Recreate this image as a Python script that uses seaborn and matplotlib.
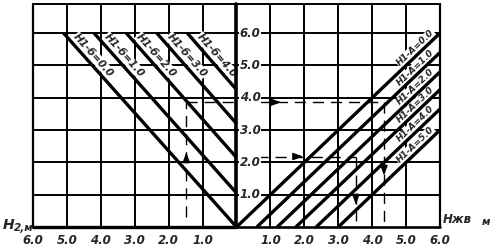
import numpy as np
import pandas as pd
import matplotlib
matplotlib.use("Agg")
import matplotlib.pyplot as plt
import seaborn as sns

# ---------------- data ----------------
# left family: lines H1-б = const, start on the 6.0 grid line, end on the central axis
left_h1b = [0.0, 1.0, 2.0, 3.0, 4.0]
left_top_x = [5.1, 4.2, 3.25, 2.35, 1.45]      # x (left scale) where a line meets H2 = 6.0
left_axis_y = [0.0, 1.05, 2.15, 3.2, 4.25]     # H2 where a line meets the central axis
# right family: lines H1-A = const, from the bottom axis to the right border
right_h1a = [0.0, 1.0, 2.0, 3.0, 4.0, 5.0]
right_base_x = [0.0, 0.6, 1.2, 1.75, 2.35, 3.0]  # x where a line meets H2 = 0
right_edge_y = [6.0, 5.4, 4.8, 4.25, 3.65, 3.0]  # H2 where a line meets x = 6.0
x_ticks = [1.0, 2.0, 3.0, 4.0, 5.0, 6.0]
x_tick_labels = ["1.0", "2.0", "3.0", "4.0", "5.0", "6.0"]
y_ticks = [1.0, 2.0, 3.0, 4.0, 5.0, 6.0]
y_tick_labels = ["1.0", "2.0", "3.0", "4.0", "5.0", "6.0"]
# example reading paths (dashed)
read_a_left_x = 1.48
read_a_y = 3.86
read_a_right_x = 4.35
read_b_y = 2.18
read_b_start_x = 0.6
read_b_right_x = 3.52

# ---------------- figure ----------------
sns.set_theme(style="white")
plt.rcParams["font.family"] = ["DejaVu Sans"]

W, H = 491, 249
fig = plt.figure(figsize=(W / 100, H / 100), dpi=100)
ax = fig.add_axes([33 / W, 22 / H, (440 - 33) / W, (227 - 4) / H])
YTOP = 6.9

rows = []
for i, h in enumerate(left_h1b):
    rows.append(dict(line=f"L{h}", x=-left_top_x[i], y=6.0))
    rows.append(dict(line=f"L{h}", x=0.0, y=left_axis_y[i]))
for j, h in enumerate(right_h1a):
    rows.append(dict(line=f"R{h}", x=right_base_x[j], y=0.0))
    rows.append(dict(line=f"R{h}", x=6.0, y=right_edge_y[j]))
df = pd.DataFrame(rows)

sns.lineplot(data=df, x="x", y="y", units="line", estimator=None, sort=False,
             color="black", linewidth=2.4, legend=False, ax=ax, zorder=4)
for ln in ax.lines:
    ln.set_solid_capstyle("butt")
    ln.set_clip_on(False)

ax.set_xlim(-6, 6)
ax.set_ylim(0, YTOP)
ax.axis("off")

K = "black"
glw = 1.4
# grid, left panel
for v in [1, 2, 3, 4, 5]:
    ax.plot([-v, -v], [0, YTOP], color=K, lw=glw, zorder=1, clip_on=False)
for v in y_ticks:
    ax.plot([-6, 0], [v, v], color=K, lw=glw, zorder=1, clip_on=False)
# grid, right panel
for v in [1, 2, 3, 4, 5]:
    ax.plot([v, v], [0, YTOP], color=K, lw=glw, zorder=1, clip_on=False)
for v in y_ticks:
    ax.plot([0, 6], [v, v], color=K, lw=glw, zorder=1, clip_on=False)
# frame
ax.plot([-6, -6], [0, YTOP], color=K, lw=1.6, zorder=1, clip_on=False)
ax.plot([6, 6], [0, YTOP], color=K, lw=1.6, zorder=1, clip_on=False)
ax.plot([-6, 6], [YTOP, YTOP], color=K, lw=1.4, zorder=1, clip_on=False)
ax.plot([-6, 0], [0, 0], color=K, lw=2.4, zorder=5, clip_on=False)
ax.plot([0, 6], [0, 0], color=K, lw=1.9, zorder=5, clip_on=False)
ax.plot([0, 0], [0, YTOP], color=K, lw=2.6, zorder=5, clip_on=False)

# dashed reading paths
dkw = dict(color=K, lw=1.0, dashes=(8, 5), zorder=2, clip_on=False)
ax.plot([-read_a_left_x, -read_a_left_x], [0.3, read_a_y], **dkw)
ax.plot([-read_a_left_x, read_a_right_x], [read_a_y, read_a_y], **dkw)
ax.plot([read_a_right_x, read_a_right_x], [read_a_y, 0.1], **dkw)
ax.plot([read_b_start_x, read_b_right_x], [read_b_y, read_b_y], **dkw)
ax.plot([read_b_right_x, read_b_right_x], [read_b_y, 0.2], **dkw)
akw = dict(arrowstyle="-|>,head_length=0.5,head_width=0.18", color=K, lw=1.0)
ax.annotate("", xy=(-read_a_left_x, 2.4), xytext=(-read_a_left_x, 1.95), arrowprops=akw, zorder=3)
ax.annotate("", xy=(1.4, read_a_y), xytext=(0.95, read_a_y), arrowprops=akw, zorder=3)
ax.annotate("", xy=(2.05, read_b_y), xytext=(1.6, read_b_y), arrowprops=akw, zorder=3)
ax.annotate("", xy=(read_a_right_x, 1.5), xytext=(read_a_right_x, 1.95), arrowprops=akw, zorder=3)
ax.annotate("", xy=(read_b_right_x, 0.6), xytext=(read_b_right_x, 1.05), arrowprops=akw, zorder=3)

# line labels
PX2PT = 72 / 100.0


def screen_angle(p, q):
    a = ax.transData.transform(p)
    b = ax.transData.transform(q)
    return np.degrees(np.arctan2(b[1] - a[1], b[0] - a[0]))


wbox = dict(facecolor="white", edgecolor="none", pad=0.4)
for i, h in enumerate(left_h1b):
    p, q = (-left_top_x[i], 6.0), (0.0, left_axis_y[i])
    th = screen_angle(p, q)
    yl = 5.15
    t = (yl - 6.0) / (left_axis_y[i] - 6.0)
    xl = p[0] + t * (q[0] - p[0])
    r = np.radians(th)
    off = 7.5
    ax.annotate(f"H1-б={h:.1f}", xy=(xl, yl),
                xytext=(-np.sin(r) * off * PX2PT, np.cos(r) * off * PX2PT),
                textcoords="offset points", rotation=th, rotation_mode="anchor",
                ha="center", va="center", fontsize=7.5, style="italic",
                fontweight="bold", bbox=wbox, zorder=3, annotation_clip=False)

for j, h in enumerate(right_h1a):
    p, q = (right_base_x[j], 0.0), (6.0, right_edge_y[j])
    th = screen_angle(p, q)
    xl = 5.4
    t = (xl - p[0]) / (q[0] - p[0])
    yl = p[1] + t * (q[1] - p[1])
    r = np.radians(th)
    off = 6.0
    ax.annotate(f"H1-A={h:.1f}", xy=(xl, yl),
                xytext=(-np.sin(r) * off * PX2PT, np.cos(r) * off * PX2PT),
                textcoords="offset points", rotation=th, rotation_mode="anchor",
                ha="center", va="center", fontsize=6.5, style="italic",
                fontweight="bold", bbox=wbox, zorder=3, annotation_clip=False)

# tick labels
tkw = dict(fontsize=8.5, style="italic", fontweight="bold", clip_on=False)
for v, s in zip(x_ticks, x_tick_labels):
    ax.text(-v, -0.42, s, ha="center", va="center", **tkw)
    ax.text(v, -0.42, s, ha="center", va="center", **tkw)
for v, s in zip(y_ticks, y_tick_labels):
    ax.text(0.1, v, s, ha="left", va="center",
            bbox=dict(facecolor="white", edgecolor="none", pad=0.6), zorder=3, **tkw)

# axis titles
fig.text(3 / W, 1 - 229 / H, "H", fontsize=10, style="italic", fontweight="bold", ha="left", va="baseline")
fig.text(14 / W, 1 - 231 / H, "2,м", fontsize=7.5, style="italic", fontweight="bold", ha="left", va="baseline")
fig.text(443 / W, 1 - 223 / H, "Hжв", fontsize=8.5, style="italic", fontweight="bold", ha="left", va="baseline")
fig.text(482 / W, 1 - 225 / H, "м", fontsize=7.5, style="italic", fontweight="bold", ha="left", va="baseline")

fig.savefig("out.png", dpi=100, facecolor="white")
